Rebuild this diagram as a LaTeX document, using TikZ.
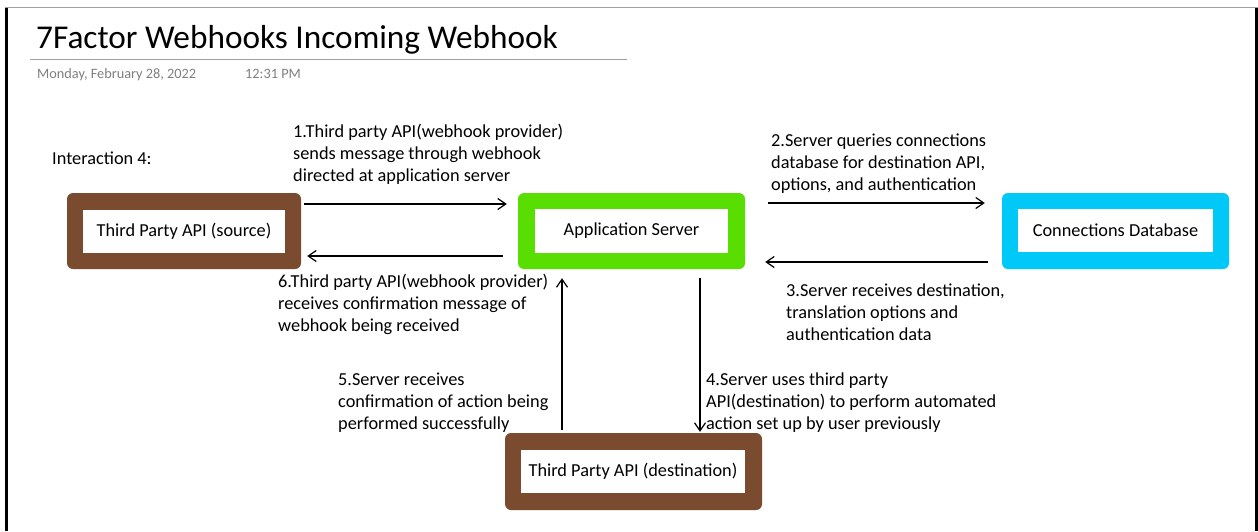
\documentclass[tikz,border=0pt]{standalone}
\usepackage{fontspec}
\setmainfont{Carlito}
\usetikzlibrary{arrows.meta}
\definecolor{brownbox}{HTML}{7A4B2F}
\definecolor{greenbox}{HTML}{58DE00}
\definecolor{cyanbox}{HTML}{00C8F7}
\definecolor{dategray}{HTML}{7F7F7F}
\definecolor{rulegray}{HTML}{A0A0A0}
\begin{document}
\begin{tikzpicture}[x=1pt,y=-1pt,
  outerbox/.style={rounded corners=6pt, inner sep=0pt},
  innerbox/.style={fill=white, inner sep=0pt, font=\fontsize{18.3}{22}\selectfont},
  arr/.style={-{Straight Barb[length=8pt,width=11pt]}, line width=1.2pt},
  lbl/.style={anchor=north west, align=left, inner sep=0pt, font=\fontsize{18.3}{22}\selectfont}]
\useasboundingbox (0,0) rectangle (1258,531);
% frame
\draw[rulegray, line width=1pt] (5,7.5) -- (1258,7.5);
\draw[black, line width=2.5pt] (6.25,7.5) -- (6.25,531);
\draw[black, line width=2.5pt] (1256.5,7.5) -- (1256.5,531);
% header
\node[anchor=base west, inner sep=0pt, font=\fontsize{33.3}{40}\selectfont] (title) at (36,48.5) {7Factor Webhooks Incoming Webhook};
\draw[rulegray, line width=1pt] (30,59.5) -- (627,59.5);
\node[anchor=base west, inner sep=0pt, text=dategray, font=\fontsize{14.3}{17}\selectfont] (date) at (37,78) {Monday, February 28, 2022};
\node[anchor=base west, inner sep=0pt, text=dategray, font=\fontsize{14.3}{17}\selectfont] (time) at (245,78) {12:31 PM};
\node[anchor=base west, inner sep=0pt, font=\fontsize{18.3}{22}\selectfont] (inter) at (52,164) {Interaction 4:};
% boxes
\node[outerbox, fill=brownbox, minimum width=234pt, minimum height=76pt] (src) at (184,231) {};
\node[innerbox, minimum width=202pt, minimum height=43pt] (srcIn) at (184,231.5) {Third Party API (source)};
\node[outerbox, fill=greenbox, minimum width=227pt, minimum height=76pt] (app) at (631.5,231) {};
\node[innerbox, minimum width=193pt, minimum height=44pt] (appIn) at (631.5,231) {Application Server};
\node[outerbox, fill=cyanbox, minimum width=227pt, minimum height=76pt] (db) at (1115.5,231) {};
\node[innerbox, minimum width=195pt, minimum height=43pt] (dbIn) at (1115.5,230.5) {Connections Database};
\node[outerbox, fill=brownbox, minimum width=257pt, minimum height=77pt] (dst) at (633.5,471.5) {};
\node[innerbox, minimum width=224pt, minimum height=43pt] (dstIn) at (633,471.5) {Third Party API (destination)};
% arrows
\draw[arr] ([xshift=3pt,yshift=27pt]src.east) -- ([xshift=-11pt,yshift=27pt]app.west);
\draw[arr] ([xshift=-15pt,yshift=-25pt]app.west) -- ([xshift=6pt,yshift=-25pt]src.east);
\draw[arr] ([xshift=23pt,yshift=28pt]app.east) -- ([xshift=-17pt,yshift=28pt]db.west);
\draw[arr] ([xshift=-14pt,yshift=-31pt]db.west) -- ([xshift=20pt,yshift=-31pt]app.east);
\draw[arr] ([xshift=-71.5pt,yshift=3pt]dst.north) -- ([xshift=-69.5pt,yshift=-9pt]app.south);
\draw[arr] ([xshift=68.5pt,yshift=-9pt]app.south) -- ([xshift=66.5pt,yshift=1pt]dst.north);
% labels (top = baseline - 15.4)
\node[lbl] (l1) at (293,121.6) {\strut 1.Third party API(webhook provider)\\sends message through webhook\\directed at application server};
\node[lbl] (l2) at (771,130.6) {\strut 2.Server queries connections\\database for destination API,\\options, and authentication};
\node[lbl] (l3) at (786,280.6) {\strut 3.Server receives destination,\\translation options and\\authentication data};
\node[lbl] (l6) at (278,271.6) {\strut 6.Third party API(webhook provider)\\receives confirmation message of\\webhook being received};
\node[lbl] (l5) at (338,369.6) {\strut 5.Server receives\\confirmation of action being\\performed successfully};
\node[lbl] (l4) at (706,369.6) {\strut 4.Server uses third party\\API(destination) to perform automated\\action set up by user previously};
\end{tikzpicture}
\end{document}
